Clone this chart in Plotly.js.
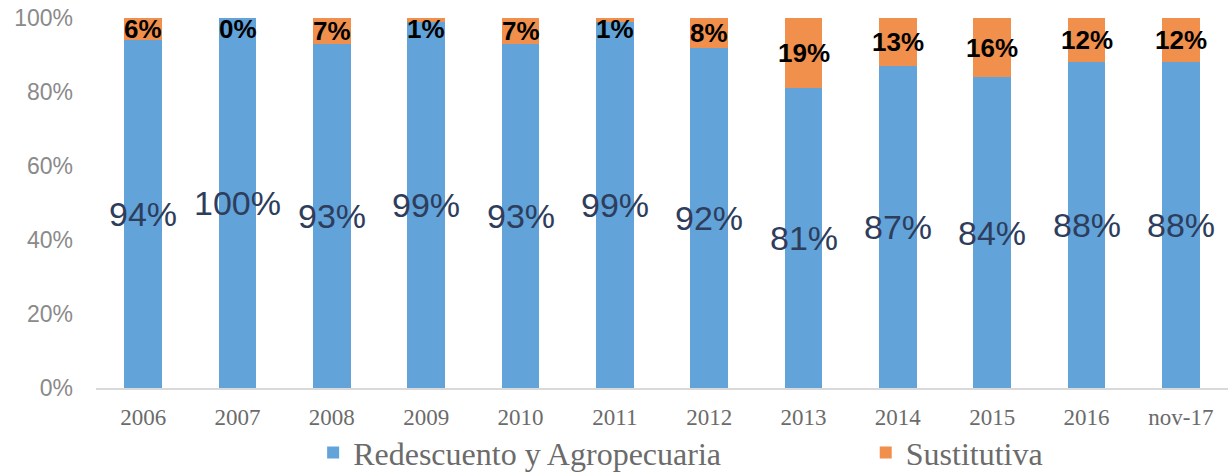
<!DOCTYPE html>
<html>
<head>
<meta charset="utf-8">
<script src="https://cdn.plot.ly/plotly-3.0.1.min.js"></script>
<style>html,body{margin:0;padding:0;background:#fff}#chart{width:1228px;height:474px}
.legendtext{font-family:'Liberation Serif', serif !important;}</style>
</head>
<body>
<div id="chart"></div>
<script>
const categories = ['2006','2007','2008','2009','2010','2011','2012','2013','2014','2015','2016','nov-17'];
const redescuento = [94,100,93,99,93,99,92,81,87,84,88,88];
const sustitutiva = [6,0,7,1,7,1,8,19,13,16,12,12];
const seriesNames = ['Redescuento y Agropecuaria', 'Sustitutiva'];
const yTickVals = [0,20,40,60,80,100];
const yTickText = ['0%','20%','40%','60%','80%','100%'];

const blue = '#62A3D9';
const orange = '#F0904C';

const traces = [
  {type:'bar', name:seriesNames[0], x:categories, y:redescuento, marker:{color:blue}, hoverinfo:'skip', legend:'legend'},
  {type:'bar', name:seriesNames[1], x:categories, y:sustitutiva, marker:{color:orange}, hoverinfo:'skip', legend:'legend2'}
];

const annotations = [];
categories.forEach((c,i)=>{
  annotations.push({x:i, y:redescuento[i]/2, xref:'x', yref:'y', text:redescuento[i]+'%', showarrow:false,
    font:{family:'Liberation Sans, Arial, sans-serif', size:34, color:'#2E3D5C'}});
  annotations.push({x:i, y:Math.min(redescuento[i]+sustitutiva[i]/2, 97), xref:'x', yref:'y', text:'<b>'+sustitutiva[i]+'%</b>', showarrow:false,
    font:{family:'Liberation Sans, Arial, sans-serif', size:26, color:'#000'}});
});

const layout = {
  width:1228, height:474,
  margin:{l:96, r:0, t:18, b:86},
  paper_bgcolor:'#fff', plot_bgcolor:'#fff',
  font:{family:'Liberation Serif', color:'#6b6b6b'},
  barmode:'stack', bargap:0.6,
  showlegend:true,
  legend:{orientation:'h', xref:'container', yref:'container', x:0.255, xanchor:'left', y:0.045, yanchor:'middle',
    bgcolor:'rgba(0,0,0,0)', font:{family:'Liberation Serif', size:32, color:'#6b6b6b'}},
  legend2:{orientation:'h', xref:'container', yref:'container', x:0.705, xanchor:'left', y:0.045, yanchor:'middle',
    bgcolor:'rgba(0,0,0,0)', font:{family:'Liberation Serif', size:32, color:'#6b6b6b'}},
  xaxis:{type:'category', range:[-0.5, categories.length-0.5], showgrid:false, showline:true, linecolor:'#d9d9d9', linewidth:1.5, ticks:'',
    ticklabelstandoff:8, tickfont:{family:'Liberation Serif', size:23, color:'#6b6b6b'}, zeroline:false, fixedrange:true},
  yaxis:{range:[0,100], tickvals:yTickVals, ticktext:yTickText, showgrid:false, zeroline:false, showline:false,
    ticklabelstandoff:22, tickfont:{family:'Liberation Sans, Arial, sans-serif', size:23, color:'#8a8a8a'}, fixedrange:true},
  annotations:annotations
};

Plotly.newPlot('chart', traces, layout, {displayModeBar:false, staticPlot:true});
</script>
</body>
</html>
